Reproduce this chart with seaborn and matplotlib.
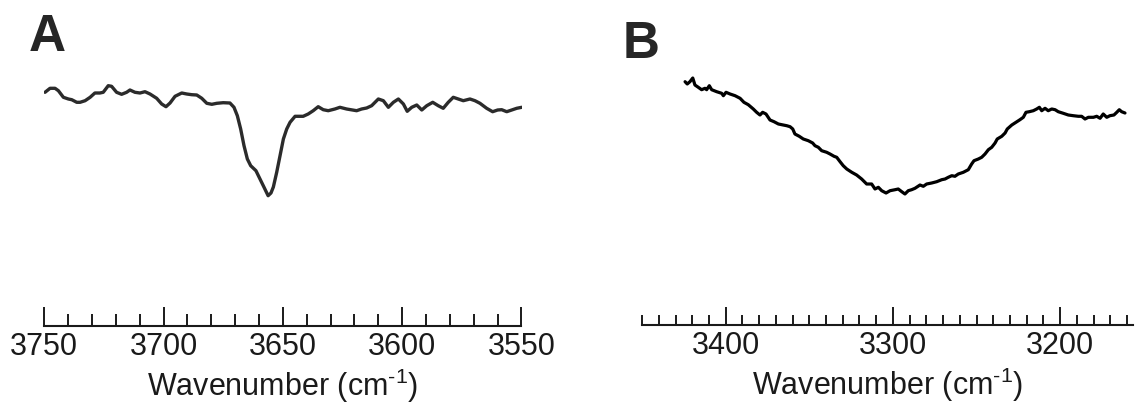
import numpy as np
import pandas as pd
import matplotlib
matplotlib.use("Agg")
import matplotlib.pyplot as plt
from matplotlib.ticker import MultipleLocator
import seaborn as sns

# ---------------- data ----------------
wn_a = [3749.7, 3747.6, 3745.5, 3744.1, 3742.0, 3739.9, 3738.5, 3736.4, 3735.0, 3732.9,
        3730.8, 3728.8, 3726.7, 3725.3, 3723.2, 3721.8, 3719.7, 3717.6, 3715.5, 3714.1,
        3712.0, 3709.9, 3707.8, 3705.7, 3702.9, 3700.8, 3699.0, 3697.3, 3695.2, 3692.4,
        3690.3, 3688.2, 3686.1, 3684.0, 3681.9, 3679.8, 3677.7, 3675.0, 3672.2, 3670.5,
        3669.1, 3667.7, 3666.3, 3664.9, 3663.5, 3661.3, 3659.6, 3657.9, 3656.2, 3655.0,
        3654.0, 3652.6, 3651.2, 3649.8, 3648.4, 3647.0, 3644.9, 3642.8, 3641.5, 3639.4,
        3637.3, 3635.2, 3633.1, 3631.0, 3628.2, 3626.1, 3623.3, 3619.1, 3617.0, 3614.9,
        3612.8, 3610.0, 3607.9, 3605.8, 3603.7, 3601.6, 3599.5, 3597.9, 3596.0, 3593.9,
        3591.8, 3589.7, 3587.2, 3584.9, 3582.8, 3580.7, 3578.6, 3576.5, 3574.4, 3571.6,
        3569.5, 3567.4, 3564.6, 3562.1, 3560.0, 3558.3, 3556.2, 3554.1, 3552.0, 3549.9]
sig_a = [1.067, 1.107, 1.107, 1.083, 1.017, 1.000, 0.993, 0.967, 0.967, 0.983,
         1.017, 1.060, 1.060, 1.067, 1.133, 1.127, 1.067, 1.047, 1.067, 1.090,
         1.067, 1.060, 1.073, 1.050, 1.007, 0.950, 0.923, 0.960, 1.027, 1.060,
         1.050, 1.043, 1.040, 1.007, 0.957, 0.947, 0.957, 0.963, 0.960, 0.917,
         0.833, 0.700, 0.533, 0.400, 0.333, 0.283, 0.200, 0.117, 0.033, 0.060,
         0.120, 0.267, 0.433, 0.600, 0.700, 0.767, 0.827, 0.827, 0.827, 0.850,
         0.883, 0.923, 0.893, 0.883, 0.900, 0.917, 0.900, 0.883, 0.900, 0.910,
         0.933, 1.000, 0.983, 0.917, 0.967, 1.000, 0.950, 0.877, 0.917, 0.940,
         0.890, 0.933, 0.967, 0.933, 0.907, 0.967, 1.017, 1.000, 0.983, 1.000,
         0.983, 0.957, 0.907, 0.873, 0.890, 0.893, 0.873, 0.890, 0.907, 0.917]

wn_b = [3424.3, 3423.0, 3421.4, 3419.7, 3418.4, 3416.4, 3414.4, 3412.4, 3411.4, 3409.8,
        3408.4, 3405.4, 3402.4, 3401.4, 3399.8, 3397.4, 3394.4, 3391.4, 3389.1, 3386.5,
        3383.5, 3381.5, 3379.5, 3377.9, 3375.9, 3373.5, 3371.1, 3368.5, 3365.6, 3363.5,
        3361.5, 3359.9, 3358.6, 3356.0, 3353.6, 3350.6, 3348.0, 3346.6, 3344.6, 3342.6,
        3339.6, 3337.6, 3335.2, 3333.6, 3331.6, 3329.7, 3327.6, 3324.6, 3321.7, 3318.7,
        3315.7, 3312.7, 3310.7, 3308.7, 3306.7, 3304.1,
        3301.7, 3298.7, 3296.8, 3294.7, 3292.8, 3290.8, 3288.8, 3286.8, 3283.8, 3281.8,
        3279.8, 3276.8, 3273.8, 3270.8, 3268.8, 3266.9, 3264.8, 3262.9, 3260.9, 3257.9,
        3254.9, 3252.9, 3251.5, 3248.9, 3246.9, 3244.9, 3242.9, 3240.9, 3238.9, 3237.6,
        3234.9, 3232.9, 3231.6, 3228.9, 3226.4, 3224.0, 3222.0, 3220.4, 3218.4, 3216.0,
        3214.0, 3212.4, 3211.0, 3209.0, 3207.1, 3205.0, 3203.0, 3201.1, 3198.1, 3195.1,
        3192.1, 3189.1, 3187.1, 3185.1, 3183.1, 3180.1, 3178.1, 3176.1, 3174.2, 3172.1,
        3170.2, 3167.8, 3166.1, 3164.6, 3163.2, 3161.2]
sig_b = [1.173, 1.150, 1.173, 1.210, 1.140, 1.117, 1.093, 1.107, 1.093, 1.133,
         1.093, 1.073, 1.057, 1.033, 1.067, 1.050, 1.033, 1.007, 0.967, 0.943,
         0.900, 0.867, 0.840, 0.867, 0.850, 0.790, 0.773, 0.750, 0.740, 0.733,
         0.723, 0.700, 0.650, 0.627, 0.600, 0.583, 0.560, 0.533, 0.517, 0.483,
         0.467, 0.450, 0.427, 0.417, 0.373, 0.333, 0.300, 0.267, 0.240, 0.200,
         0.150, 0.150, 0.100, 0.117, 0.083, 0.060,
         0.083, 0.093, 0.100, 0.073, 0.050, 0.083, 0.093, 0.107, 0.140, 0.127,
         0.150, 0.160, 0.173, 0.193, 0.200, 0.217, 0.233, 0.227, 0.250, 0.267,
         0.293, 0.350, 0.383, 0.400, 0.417, 0.450, 0.493, 0.517, 0.560, 0.600,
         0.627, 0.660, 0.700, 0.740, 0.767, 0.793, 0.817, 0.867, 0.873, 0.883,
         0.900, 0.917, 0.883, 0.907, 0.883, 0.900, 0.893, 0.873, 0.857, 0.840,
         0.833, 0.827, 0.827, 0.800, 0.817, 0.817, 0.827, 0.807, 0.850, 0.817,
         0.833, 0.840, 0.867, 0.893, 0.873, 0.860]

xlim_a = (3750, 3550)
xlim_b = (3450, 3156.4)
major_a, minor_a = 50, 10
major_b, minor_b = 100, 10
xlabel = r"Wavenumber (cm$^{\text{-}1}$)"
panel_labels = ["A", "B"]

# ---------------- style ----------------
sns.set_theme(style="white")
plt.rcParams["font.family"] = ["Liberation Sans", "DejaVu Sans"]
plt.rcParams["mathtext.fontset"] = "custom"
plt.rcParams["mathtext.rm"] = "Liberation Sans"
plt.rcParams["mathtext.it"] = "Liberation Sans:italic"
plt.rcParams["mathtext.bf"] = "Liberation Sans:bold"

W, H = 1139, 406
fig = plt.figure(figsize=(W / 100, H / 100), dpi=100)

ax_a = fig.add_axes([44.3 / W, 79.3 / H, 477.2 / W, 266.7 / H])
ax_b = fig.add_axes([642.1 / W, 80.3 / H, (1133 - 642.1) / W, 265.7 / H])

df_a = pd.DataFrame({"wn": wn_a, "sig": sig_a})
df_b = pd.DataFrame({"wn": wn_b, "sig": sig_b})
sns.lineplot(data=df_a, x="wn", y="sig", ax=ax_a, color="#2b2b2b", lw=2.4)
sns.lineplot(data=df_b, x="wn", y="sig", ax=ax_b, color="black", lw=2.3)

for ax, xl, mj, mn, yl, tl in [
    (ax_a, xlim_a, major_a, minor_a, (-1.267, 1.4), (13.7, 8.6)),
    (ax_b, xlim_b, major_b, minor_b, (-1.257, 1.4), (13.0, 7.2)),
]:
    ax.set_xlim(*xl)
    ax.set_ylim(*yl)
    ax.set_facecolor("none")
    for s in ["left", "right", "top"]:
        ax.spines[s].set_visible(False)
    ax.spines["bottom"].set_color("#1a1a1a")
    ax.spines["bottom"].set_linewidth(1.5)
    ax.set_yticks([])
    ax.set_ylabel("")
    ax.xaxis.set_major_locator(MultipleLocator(mj))
    ax.xaxis.set_minor_locator(MultipleLocator(mn))
    ax.tick_params(axis="x", which="major", direction="in", length=tl[0], width=1.4,
                   color="#1a1a1a", labelsize=22, pad=4, bottom=True,
                   labelcolor="#1a1a1a")
    ax.tick_params(axis="x", which="minor", direction="in", length=tl[1], width=1.4,
                   color="#1a1a1a", bottom=True)
    ax.set_xlabel(xlabel, fontsize=22, labelpad=3, color="#1a1a1a")

fig.text(29 / W, 1 - 50.7 / H, panel_labels[0], fontsize=37, fontweight="bold",
         ha="left", va="baseline")
fig.text(623 / W, 1 - 58 / H, panel_labels[1], fontsize=37, fontweight="bold",
         ha="left", va="baseline")

fig.savefig("out.png", dpi=100)
